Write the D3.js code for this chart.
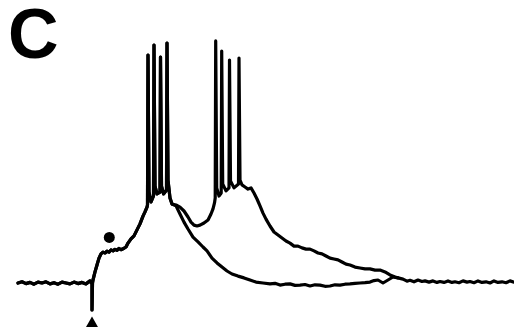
<!DOCTYPE html>
<html>
<head>
<meta charset="utf-8">
<script src="https://cdn.jsdelivr.net/npm/d3@7/dist/d3.min.js"></script>
<style>
  html, body { margin: 0; padding: 0; background: #fff; }
  svg { display: block; }
</style>
</head>
<body>
<svg id="chart" width="514" height="331"></svg>
<script>
// Membrane potential traces: time (ms) vs depolarisation from rest (mV).
// Two sweeps overlaid; they share the baseline, the stimulus artifact,
// the EPSP rise and the first burst, then diverge.

const panelLabel = "C";

// Resting baseline, stimulus artifact and EPSP rise (both sweeps)
const sharedRise = [
  [0,0],[4,0.4],[8,-0.2],[12,0.2],[16,-0.4],[20,0.3],[24,0],[28,0.4],
  [32,-0.3],[36,0.1],[40,-0.4],[44,0.3],[48,0],[52,-0.3],[56,0.3],[60,-0.2],
  [64,0.2],[68,-0.3],[72,0.7],[74,-0.3],[74,-9],[74.5,0],[75,1],
  [77,3.7],[79,6],[81,8.3],[83,9.7],[85,10.3],[87,10],[89,10.6],[91,10.3],
  [93,11],[95,10.7],[97,11.2],[99,10.9],[101,11.5],[103,11.1],[105,11.4],
  [108,12],[110,13.3],[113,14.7],[116,15.7],[119,17.7],
  [122,19.7],[125,22.3],[127,23.7],[129,25.3]
];

// First burst of four spikes
const firstBurst = [
  [129.5,26],[130,76],[131,30.3],[133,27],[135.5,29],[136,79.3],[137,32.3],
  [139,29.7],[142,30.3],[142.5,75.3],[143.5,32.3],[145.5,29.7],[148.5,31],
  [149,80],[150,34.3],[152,28.3],[154,26.3]
];

// Sweep A: fast repolarisation back to rest
const sweepADecay = [
  [158,25.7],[162,23],[166,20.3],[170,18],[175,15.3],[180,13.7],[185,12],
  [189,10.7],[194,8.3],[199,6.7],[204,5.3],[209,4],[214,3],[220,2.3],
  [226,1.7],[232,1],[238,0.3],[245,0],[252,-0.3],[257,-0.1],[262,-0.7],
  [267,-0.4],[272,-0.3],[277,-0.8],[282,-0.7],[287,-0.5],[292,-1],
  [297,-0.6],[302,-0.7],[307,-1.1],[312,-1],[317,-0.6],[322,-0.7],
  [327,-0.4],[332,-0.3],[337,-0.1],[342,0],[347,0.1],
  [352,0.3],[356,0.8],[360,1],[365,0],[370,1],[375,2],[380,1.7]
];

// Sweep B: dip, second burst of four spikes, slow plateau decay
const sweepBLate = [
  [158,26],[162,25.3],[166,24],[170,22],[173,20.3],[176,19.3],[179,19],
  [182,19.3],[186,20],[190,21],[193,23],[195,24.7],[196.5,26.7],
  [197.2,28.3],[197.7,80.7],[198.7,31.7],[201,29],
  [203.2,30],[203.7,77.3],[204.7,33],[208,30.7],
  [211,31.7],[211.5,74.3],[212.5,34],[216,31.7],
  [220.5,33],[221,75],[222,34.3],
  [224,32.7],[227,32],[230,31.3],[233,31.7],[236,30],[239,28],[242,25.7],
  [245,23.3],[248,21.3],[252,19],[256,17],[260,16],[264,15],[268,14],
  [272,13.3],[276,12.3],[280,12.3],[284,11.7],[288,11.3],[292,11.3],
  [296,10.7],[300,10],[304,9.7],[308,9],[312,8.3],[316,8],[320,7.7],
  [324,7],[328,6.3],[332,6],[337,5.3],[342,5],[347,4.7],[352,4.7],
  [357,4.3],[362,4.3],[367,3.7],[372,2.7],[377,2],[380,1.7]
];

// Common tail once both sweeps are back at rest
const restTail = [
  [385,1.3],[389,0.6],[392,0.9],[396,0.4],[400,1],[404,0.5],[407,0.7],
  [411,0.3],[415,0.7],[419,0.2],[422,0.5],[426,0.2],[430,0.7],[434,0.2],
  [437,0.4],[441,0.1],[445,0.7],[449,0.3],[452,0.5],[456,0.1],[460,0.7],
  [464,0.2],[468,0.4],[472,0],[476,0.7],[480,0.2],[484,0.4],[488,0.1],
  [492,0.7],[496,0.3]
];

// Markers: stimulus onset (triangle) and EPSP (dot)
const stimulusTime = 74;
const artifactLevel = -9;
const epspMarker = [91.3, 15.2];

const svg = d3.select("#chart");

const x = d3.scaleLinear().domain([0, 495]).range([18, 513]);
const y = d3.scaleLinear().domain([0, 80]).range([283, 43]);

const line = d3.line()
  .x(d => x(d[0]))
  .y(d => y(d[1]))
  .curve(d3.curveLinear);

const sweeps = [
  sharedRise.concat(firstBurst, sweepADecay, restTail),
  sharedRise.concat(firstBurst, sweepBLate)
];

svg.append("g")
  .selectAll("path")
  .data(sweeps)
  .join("path")
  .attr("d", line)
  .attr("fill", "none")
  .attr("stroke", "#000")
  .attr("stroke-width", 3.2)
  .attr("stroke-linejoin", "round")
  .attr("stroke-linecap", "round");

// EPSP dot
svg.append("circle")
  .attr("cx", x(epspMarker[0]))
  .attr("cy", y(epspMarker[1]))
  .attr("r", 5.5)
  .attr("fill", "#000");

// Stimulus triangle under the artifact
svg.append("path")
  .attr("d", d3.symbol().type(d3.symbolTriangle).size(62)())
  .attr("transform", `translate(${x(stimulusTime)},${y(artifactLevel) + 13.5})`)
  .attr("fill", "#000");

// Panel letter
svg.append("text")
  .attr("x", 8)
  .attr("y", 58)
  .attr("font-family", "'Liberation Sans', Arial, sans-serif")
  .attr("font-weight", "bold")
  .attr("font-size", 70)
  .attr("fill", "#000")
  .text(panelLabel);
</script>
</body>
</html>
